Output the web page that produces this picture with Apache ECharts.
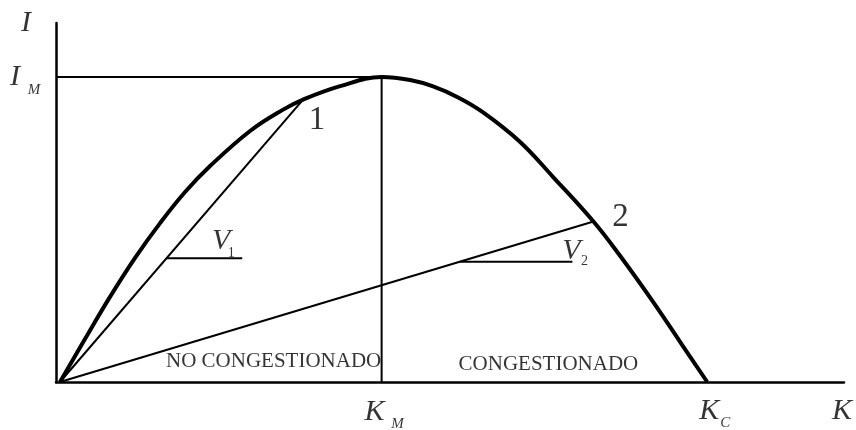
<!DOCTYPE html>
<html>
<head>
<meta charset="utf-8">
<script src="https://cdn.jsdelivr.net/npm/echarts@6/dist/echarts.min.js"></script>
<style>
  html, body { margin: 0; padding: 0; background: #fff; }
  #chart { width: 856px; height: 430px; }
</style>
</head>
<body>
<div id="chart"></div>
<script>
  // flow-density curve (K = density, I = flow, K_C = 100, I_M = 100)
  const curveK = [0.61, 4.45, 8.29, 12.14, 15.98, 19.82, 23.66, 29.8, 34.87, 37.94, 43.63, 50,
    54.38, 57.91, 61.75, 65.59, 71.27, 76.34, 82.53, 86.64, 91.71, 95.85, 100];
  const curveI = [0, 14.1, 27.9, 40.7, 52.1, 62.3, 70.8, 82.3, 89.3, 92.6, 97.0, 100,
    99.0, 96.9, 93.3, 88.4, 78.7, 67.2, 52.6, 41.3, 26.2, 13.1, 0];
  const kM = 50;
  const kC = 100;
  const iM = 100;
  const kMax = 121;
  const iMax = 117.7;
  const point1 = [37.94, 92.6];
  const point2 = [82.53, 52.6];
  // slope marks: [from K, to K, level I]
  const v1Mark = [17.0, 28.6, 40.6];
  const v2Mark = [62.0, 79.3, 39.4];

  const origin = [curveK[0], 0];
  const serif = '"Liberation Serif", "DejaVu Serif", serif';

  const txt = (value, text, offset, extra) => ({
    value: value,
    label: Object.assign(
      {
        show: true,
        position: 'inside',
        formatter: text,
        offset: offset,
        color: '#000',
        fontFamily: serif,
        fontSize: 30,
        fontStyle: 'italic',
      },
      extra || {}
    ),
  });
  const sub = { fontSize: 15 };
  const digit = { fontSize: 33, fontStyle: 'normal' };
  const plain = { fontSize: 21, fontStyle: 'normal' };

  const labels = [
    txt([0, iMax], 'I', [-30, 0]),
    txt([0, iM], 'I', [-41, 0]),
    txt([0, iM], 'M', [-22, 13], sub),
    txt([kM, 0], 'K', [-7, 30]),
    txt([kM, 0], 'M', [16, 42], sub),
    txt([kC, 0], 'K', [2, 29]),
    txt([kC, 0], 'C', [18, 41], sub),
    txt([kMax, 0], 'K', [-2, 29]),
    txt(point1, '1', [14, 21], digit),
    txt(point2, '2', [27, -4], digit),
    txt([v1Mark[1], v1Mark[2]], 'V', [-21, -17]),
    txt([v1Mark[1], v1Mark[2]], '1', [-11, -5], { fontSize: 14, fontStyle: 'normal' }),
    txt([v2Mark[1], v2Mark[2]], 'V', [-1, -11]),
    txt([v2Mark[1], v2Mark[2]], '2', [12, 0], { fontSize: 14, fontStyle: 'normal' }),
    txt([kM, 0], 'NO CONGESTIONADO', [-108, -21], plain),
    txt([(kM + kC) / 2, 0], 'CONGESTIONADO', [4, -18], plain),
  ];

  const thin = (name, data) => ({
    name: name,
    type: 'line',
    data: data,
    symbol: 'none',
    silent: true,
    lineStyle: { color: '#000', width: 2 },
  });

  const chart = echarts.init(document.getElementById('chart'));
  chart.setOption({
    animation: false,
    backgroundColor: '#fff',
    grid: { left: 56, right: 12, top: 23, bottom: 48 },
    xAxis: {
      type: 'value',
      min: 0,
      max: kMax,
      axisLine: { show: true, onZero: false, lineStyle: { color: '#000', width: 2.5 } },
      axisTick: { show: false },
      axisLabel: { show: false },
      splitLine: { show: false },
    },
    yAxis: {
      type: 'value',
      min: 0,
      max: iMax,
      axisLine: { show: true, lineStyle: { color: '#000', width: 2.5 } },
      axisTick: { show: false },
      axisLabel: { show: false },
      splitLine: { show: false },
    },
    series: [
      thin('max', [[0, iM], [kM, iM], [kM, 0]]),
      thin('chord1', [origin, point1]),
      thin('chord2', [origin, point2]),
      thin('v1', [[v1Mark[0], v1Mark[2]], [v1Mark[1], v1Mark[2]]]),
      thin('v2', [[v2Mark[0], v2Mark[2]], [v2Mark[1], v2Mark[2]]]),
      {
        name: 'curve',
        type: 'line',
        data: curveK.map((k, i) => [k, curveI[i]]),
        smooth: 0.4,
        symbol: 'none',
        silent: true,
        lineStyle: { color: '#000', width: 4 },
      },
      {
        name: 'labels',
        type: 'scatter',
        data: labels,
        symbolSize: 0,
        clip: false,
        silent: true,
      },
    ],
  });
</script>
</body>
</html>
